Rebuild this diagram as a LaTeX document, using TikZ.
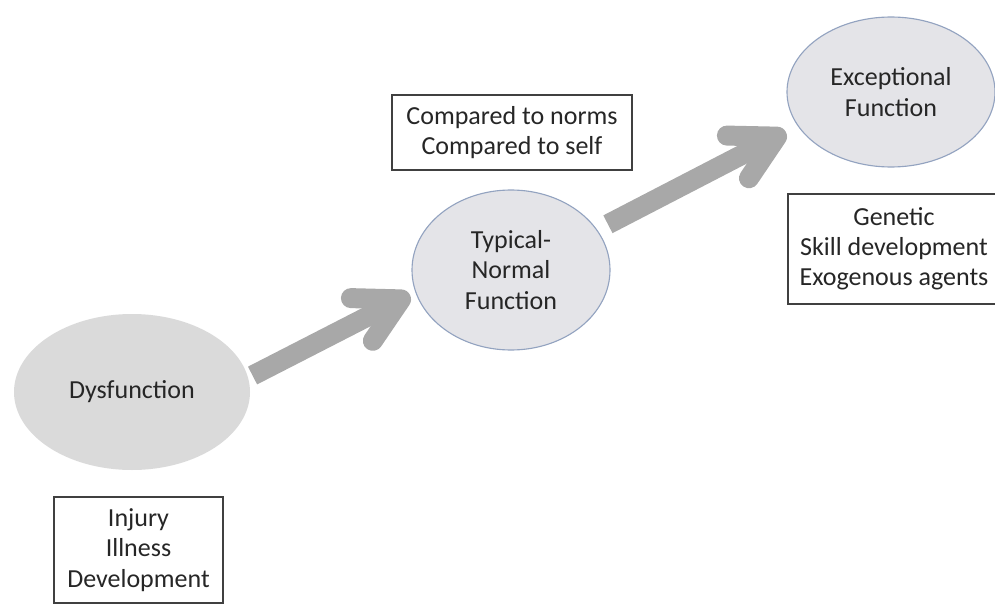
\documentclass[tikz,border=0pt]{standalone}
\usepackage{tikz}
\usetikzlibrary{arrows.meta,positioning,calc,shapes.geometric}
\usepackage{fontspec}
\setmainfont{Carlito}
\usepackage{xcolor}
\definecolor{Ink}{HTML}{262626}
\definecolor{BoxLine}{HTML}{404040}
\definecolor{Blob}{HTML}{DADADA}
\definecolor{SoftBlob}{HTML}{E4E4E8}
\definecolor{BlobLine}{HTML}{93A3C0}
\definecolor{Flow}{HTML}{A8A8A8}
\tikzset{
 state/.style={ellipse, fill=Blob, draw=none, align=center, text=Ink, font=\fontsize{18.5}{21.5}\selectfont},
 softstate/.style={state, fill=SoftBlob, draw=BlobLine, line width=0.8pt},
 note/.style={draw=BoxLine, line width=0.9pt, fill=white, align=center, inner sep=0pt, text=Ink, font=\fontsize{18.5}{21.5}\selectfont},
 flow/.style={draw=Flow, line width=0.5cm, -{Straight Barb[length=1.1cm, width=1.2cm, round]}}
}

\begin{document}
\begin{tikzpicture}
\useasboundingbox (0,0) rectangle (24.875,-15.1);
\node[state,minimum width=5.9cm,minimum height=3.9cm] (dys) at (3.3,-9.8) {Dysfunction};
\node[softstate,minimum width=4.95cm,minimum height=4.0cm] (typ) at (12.775,-6.75) {Typical-\\Normal\\Function};
\node[softstate,minimum width=5.2cm,minimum height=3.75cm] (exc) at (22.275,-2.3) {Exceptional\\Function};
\node[note,minimum width=6.0cm,minimum height=1.875cm] (norms) at (12.8,-3.3125) {Compared to norms\\Compared to self};
\node[note,minimum width=4.225cm,minimum height=2.65cm] (causes) at (3.4625,-13.75) {Injury\\Illness\\Development};
\node[note,minimum width=5.3cm,minimum height=2.75cm] (gains) at (22.35,-6.225) {Genetic\\Skill development\\Exogenous agents};
\draw[flow,shorten <=0.12cm,shorten >=0.15cm] (dys.7) -- (typ.193);
\draw[flow,shorten <=0.3cm,shorten >=0.33cm] (typ.25) -- (exc.200);
\end{tikzpicture}
\end{document}
